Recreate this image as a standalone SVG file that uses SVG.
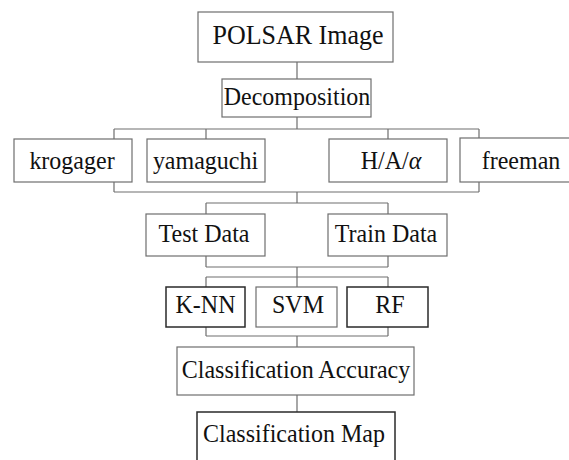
<svg xmlns="http://www.w3.org/2000/svg" width="569" height="460" viewBox="0 0 569 460">
<style>
.box{fill:#fff;stroke:#6e6e6e;stroke-width:1.2}
.dark{fill:#fff;stroke:#2a2a2a;stroke-width:1.5}
.t{font-family:"Liberation Serif","Times New Roman",serif;font-size:24px;fill:#111;text-anchor:middle}
.big{font-size:26px}
.c{fill:none;stroke:#6e6e6e;stroke-width:1.2}
</style>
<rect width="569" height="460" fill="#fff"/>
<g id="connectors">
<path class="c" d="M297,62V79 M297,117V129 M114,129H479 M114,129V192 M479,129V192 M114,192H479 M206,129V139 M388,129V139 M297,192V203 M206,203H388 M206,203V214 M388,203V214 M206,256V267 M388,256V267 M206,267H388 M297,267V277 M206,277H388 M206,277V287 M388,277V287 M297,277V287 M206,327V336 M388,327V336 M206,336H388 M297,336V347 M297,395V412"/>
</g>
<g id="polsar"><rect class="box" x="198" y="12" width="195" height="50"/><text class="t big" transform="translate(298,44) scale(1,1.04)">POLSAR Image</text></g>
<g id="decomposition"><rect class="box" x="222" y="79" width="149" height="38"/><text class="t" transform="translate(297,105) scale(1,1.08)">Decomposition</text></g>
<g id="krogager"><rect class="box" x="14" y="139" width="118" height="43"/><text class="t" transform="translate(72,169) scale(1,1.08)">krogager</text></g>
<g id="yamaguchi"><rect class="box" x="147" y="139" width="118" height="43"/><text class="t" transform="translate(205.5,169) scale(1,1.08)">yamaguchi</text></g>
<g id="haalpha"><rect class="box" x="329" y="139" width="118" height="43"/><text class="t" transform="translate(391,169) scale(1,1.08)">H/A/<tspan font-style="italic">α</tspan></text></g>
<g id="freeman"><rect class="box" x="460" y="138" width="120" height="44"/><text class="t" transform="translate(521,169) scale(1,1.08)">freeman</text></g>
<g id="testdata"><rect class="box" x="146" y="214" width="119" height="42"/><text class="t" transform="translate(204,242) scale(1,1.08)">Test Data</text></g>
<g id="traindata"><rect class="box" x="328" y="214" width="119" height="42"/><text class="t" transform="translate(386,242) scale(1,1.08)">Train Data</text></g>
<g id="knn"><rect class="dark" x="166" y="287" width="79" height="40"/><text class="t" transform="translate(205.5,313) scale(1,1.08)">K-NN</text></g>
<g id="svm"><rect class="box" x="256" y="287" width="81" height="40"/><text class="t" transform="translate(298,313) scale(1,1.08)">SVM</text></g>
<g id="rf"><rect class="dark" x="347" y="287" width="81" height="40"/><text class="t" transform="translate(390,313) scale(1,1.08)">RF</text></g>
<g id="accuracy"><rect class="box" x="177" y="347" width="237" height="48"/><text class="t" transform="translate(296,378) scale(1,1.08)">Classification Accuracy</text></g>
<g id="map"><rect class="dark" x="197" y="412" width="198" height="60"/><text class="t" transform="translate(294,442) scale(1,1.08)">Classification Map</text></g>
</svg>
